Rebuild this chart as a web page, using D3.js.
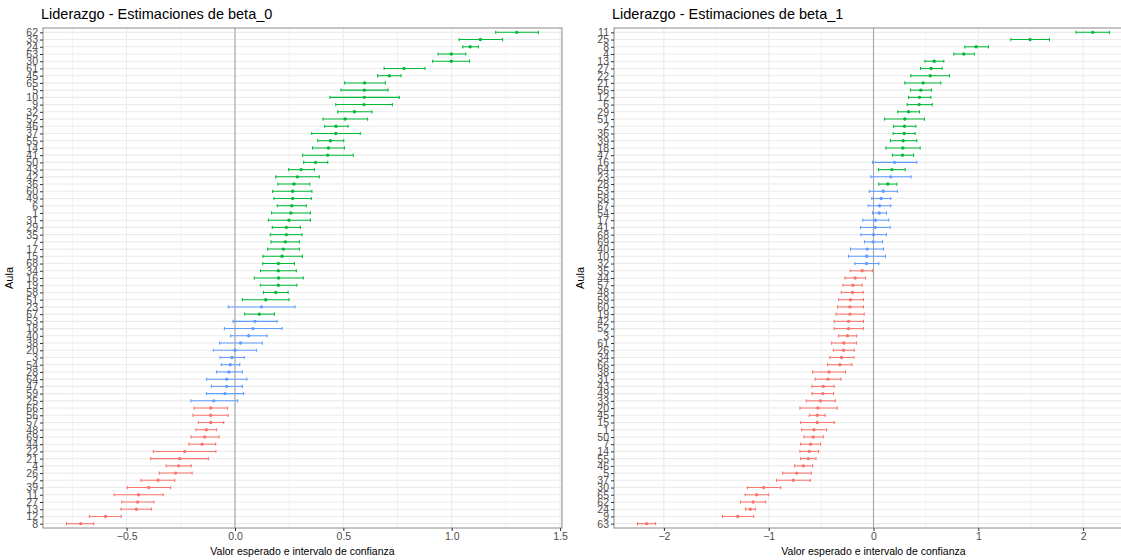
<!DOCTYPE html>
<html lang="es">
<head>
<meta charset="UTF-8">
<script src="https://cdnjs.cloudflare.com/ajax/libs/d3/7.8.5/d3.min.js"></script>
<title>Liderazgo - Estimaciones</title>
<style>
    body { margin: 0; background: #fff; }
    svg { display: block; font-family: "Liberation Sans", Arial, sans-serif; }
</style>
</head>
<body>
<svg id="chart" width="1121" height="560"></svg>
<script>
// beta_0 (ordenado de arriba hacia abajo)
var aulasB0 = ["62","33","24","63","30","61","45","65","5","10","9","32","52","46","37","55","14","41","50","43","42","36","60","49","6","1","31","29","35","7","17","15","68","34","16","19","58","51","23","67","53","18","40","38","20","3","54","28","64","47","59","25","66","56","57","48","69","44","22","21","4","26","2","39","11","27","13","12","8"];
var estB0 = [1.300,1.132,1.085,0.998,0.998,0.780,0.712,0.598,0.597,0.597,0.595,0.551,0.508,0.466,0.465,0.440,0.431,0.428,0.372,0.305,0.288,0.272,0.266,0.266,0.262,0.258,0.249,0.237,0.237,0.232,0.223,0.217,0.200,0.200,0.201,0.200,0.188,0.142,0.122,0.112,0.092,0.083,0.063,0.026,0.000,-0.014,-0.022,-0.028,-0.038,-0.038,-0.046,-0.098,-0.112,-0.112,-0.112,-0.132,-0.140,-0.152,-0.232,-0.255,-0.260,-0.274,-0.355,-0.398,-0.445,-0.449,-0.455,-0.597,-0.712];
var loB0 = [1.203,1.034,1.051,0.937,0.912,0.688,0.658,0.506,0.489,0.438,0.465,0.474,0.406,0.414,0.354,0.382,0.358,0.312,0.317,0.248,0.188,0.198,0.174,0.180,0.195,0.169,0.154,0.172,0.163,0.166,0.151,0.129,0.128,0.118,0.089,0.117,0.131,0.034,-0.031,0.045,-0.009,-0.049,-0.020,-0.071,-0.100,-0.069,-0.063,-0.085,-0.131,-0.109,-0.132,-0.203,-0.189,-0.194,-0.169,-0.180,-0.203,-0.212,-0.377,-0.389,-0.318,-0.349,-0.434,-0.497,-0.558,-0.523,-0.526,-0.672,-0.777];
var hiB0 = [1.400,1.235,1.123,1.065,1.082,0.877,0.766,0.694,0.706,0.758,0.726,0.632,0.612,0.522,0.578,0.502,0.505,0.546,0.428,0.366,0.389,0.345,0.355,0.352,0.329,0.348,0.348,0.302,0.309,0.297,0.297,0.311,0.274,0.283,0.315,0.285,0.245,0.249,0.277,0.182,0.194,0.217,0.148,0.126,0.100,0.043,0.022,0.034,0.055,0.034,0.040,0.012,-0.035,-0.032,-0.052,-0.085,-0.074,-0.089,-0.088,-0.123,-0.202,-0.198,-0.278,-0.297,-0.331,-0.374,-0.386,-0.525,-0.652];

// beta_1
var aulasB1 = ["11","25","8","4","13","27","22","21","56","12","6","29","51","2","36","39","18","47","16","64","23","28","53","58","67","54","17","41","68","69","40","10","32","35","44","57","48","59","60","19","42","52","3","61","26","34","66","38","31","43","49","33","20","45","15","1","50","7","14","55","46","5","37","30","65","62","24","9","63"];
var estB1 = [2.092,1.494,0.979,0.862,0.579,0.550,0.541,0.474,0.452,0.439,0.436,0.334,0.299,0.296,0.293,0.283,0.280,0.277,0.200,0.175,0.165,0.137,0.092,0.073,0.057,0.054,0.019,0.016,0.000,-0.003,-0.060,-0.064,-0.067,-0.108,-0.175,-0.197,-0.200,-0.219,-0.225,-0.225,-0.238,-0.238,-0.248,-0.283,-0.286,-0.305,-0.321,-0.425,-0.435,-0.479,-0.483,-0.505,-0.530,-0.537,-0.537,-0.568,-0.575,-0.600,-0.613,-0.622,-0.670,-0.733,-0.765,-1.048,-1.114,-1.149,-1.175,-1.295,-2.165];
var loB1 = [1.933,1.310,0.871,0.766,0.490,0.448,0.356,0.299,0.353,0.334,0.321,0.232,0.105,0.191,0.188,0.162,0.118,0.181,-0.010,0.048,-0.025,0.051,-0.041,-0.016,-0.051,-0.010,-0.102,-0.124,-0.121,-0.086,-0.219,-0.238,-0.178,-0.223,-0.273,-0.292,-0.308,-0.333,-0.343,-0.356,-0.375,-0.375,-0.333,-0.400,-0.384,-0.416,-0.438,-0.581,-0.556,-0.587,-0.587,-0.641,-0.702,-0.613,-0.695,-0.686,-0.663,-0.695,-0.702,-0.695,-0.752,-0.867,-0.924,-1.203,-1.225,-1.270,-1.222,-1.441,-2.251];
var hiB1 = [2.251,1.679,1.097,0.963,0.671,0.655,0.725,0.642,0.553,0.547,0.560,0.439,0.486,0.404,0.397,0.413,0.445,0.382,0.413,0.302,0.359,0.223,0.229,0.165,0.165,0.124,0.146,0.159,0.124,0.086,0.095,0.114,0.051,-0.010,-0.076,-0.108,-0.098,-0.095,-0.095,-0.089,-0.095,-0.095,-0.159,-0.162,-0.184,-0.187,-0.206,-0.267,-0.311,-0.375,-0.381,-0.365,-0.346,-0.460,-0.375,-0.448,-0.479,-0.505,-0.524,-0.549,-0.581,-0.594,-0.603,-0.886,-1.000,-1.029,-1.127,-1.143,-2.079];

var ticksB0 = [-0.5, 0, 0.5, 1, 1.5];
var ticksB1 = [-2, -1, 0, 1, 2];

var svg = d3.select("#chart");
var top_ = 28, bottom_ = 528;

function colorOf(lo, hi) {
    if (lo > 0) return "#00BA38";
    if (hi < 0) return "#F8766D";
    return "#619CFF";
}

function drawPanel(id, x0, x1, title, aulas, est, lo, hi, ticks, tickFmt) {
    var rows = aulas.map(function (a, i) {
        return { aula: a, est: est[i], lo: lo[i], hi: hi[i] };
    });

    // ggplot-like 5% expansion
    var mn = d3.min(lo), mx = d3.max(hi), pad = (mx - mn) * 0.05;
    var x = d3.scaleLinear().domain([mn - pad, mx + pad]).range([x0, x1]);
    var y = d3.scalePoint().domain(aulas).range([top_, bottom_]).padding(0.6);

    var g = svg.append("g");
    g.append("clipPath").attr("id", "clip" + id)
        .append("rect").attr("x", x0).attr("y", top_).attr("width", x1 - x0).attr("height", bottom_ - top_);

    var p = g.append("g").attr("clip-path", "url(#clip" + id + ")");

    // minor gridlines
    var step = ticks[1] - ticks[0];
    var minor = d3.range(ticks[0] - step / 2, ticks[ticks.length - 1] + step, step);
    p.selectAll(".minor").data(minor).enter().append("line")
        .attr("x1", d => x(d)).attr("x2", d => x(d))
        .attr("y1", top_).attr("y2", bottom_)
        .style("stroke", "#ebebeb").style("stroke-width", 0.6);

    p.selectAll(".hgrid").data(aulas).enter().append("line")
        .attr("x1", x0).attr("x2", x1)
        .attr("y1", d => y(d)).attr("y2", d => y(d))
        .style("stroke", "#ebebeb").style("stroke-width", 1.1);

    p.selectAll(".vgrid").data(ticks).enter().append("line")
        .attr("x1", d => x(d)).attr("x2", d => x(d))
        .attr("y1", top_).attr("y2", bottom_)
        .style("stroke", "#ebebeb").style("stroke-width", 1.1);

    // zero line
    p.append("line")
        .attr("x1", x(0)).attr("x2", x(0)).attr("y1", top_).attr("y2", bottom_)
        .style("stroke", "#a6a6a6").style("stroke-width", 1.1);

    // error bars
    var cap = 1.6;
    var bars = p.selectAll(".bar").data(rows).enter().append("g")
        .style("stroke", d => colorOf(d.lo, d.hi)).style("stroke-width", 1.05);
    bars.append("line")
        .attr("x1", d => x(d.lo)).attr("x2", d => x(d.hi))
        .attr("y1", d => y(d.aula)).attr("y2", d => y(d.aula));
    bars.append("line")
        .attr("x1", d => x(d.lo)).attr("x2", d => x(d.lo))
        .attr("y1", d => y(d.aula) - cap).attr("y2", d => y(d.aula) + cap);
    bars.append("line")
        .attr("x1", d => x(d.hi)).attr("x2", d => x(d.hi))
        .attr("y1", d => y(d.aula) - cap).attr("y2", d => y(d.aula) + cap);

    p.selectAll(".pt").data(rows).enter().append("circle")
        .attr("cx", d => x(d.est)).attr("cy", d => y(d.aula)).attr("r", 1.7)
        .style("fill", d => colorOf(d.lo, d.hi));

    // panel border
    g.append("rect")
        .attr("x", x0).attr("y", top_).attr("width", x1 - x0).attr("height", bottom_ - top_)
        .style("fill", "none").style("stroke", "#8a8a8a").style("stroke-width", 1);

    // axes
    var xAxis = d3.axisBottom(x).tickValues(ticks).tickFormat(tickFmt).tickSize(3).tickPadding(2);
    var ax = g.append("g").attr("transform", "translate(0," + bottom_ + ")").call(xAxis);
    var yAxis = d3.axisLeft(y).tickSize(3).tickPadding(2);
    var ay = g.append("g").attr("transform", "translate(" + x0 + ",0)").call(yAxis);
    [ax, ay].forEach(function (a) {
        a.select(".domain").remove();
        a.selectAll("line").style("stroke", "#333");
        a.selectAll("text").style("fill", "#4d4d4d").style("font-size", "10.5px")
            .style("font-family", "'Liberation Sans', Arial, sans-serif");
    });

    g.append("text").attr("x", (x0 + x1) / 2).attr("y", 555)
        .attr("text-anchor", "middle").style("font-size", "10.5px").text("Valor esperado e intervalo de confianza");
    g.append("text").attr("transform", "translate(" + (x0 - 30) + "," + ((top_ + bottom_) / 2) + ") rotate(-90)")
        .attr("text-anchor", "middle").style("font-size", "11px").text("Aula");
    g.append("text").attr("x", x0 - 2).attr("y", 19)
        .style("font-size", "14.5px").text(title);
}

drawPanel("a", 43, 562, "Liderazgo - Estimaciones de beta_0", aulasB0, estB0, loB0, hiB0, ticksB0, d3.format(".1f"));
drawPanel("b", 614, 1133, "Liderazgo - Estimaciones de beta_1", aulasB1, estB1, loB1, hiB1, ticksB1, d3.format("d"));
</script>
</body>
</html>
